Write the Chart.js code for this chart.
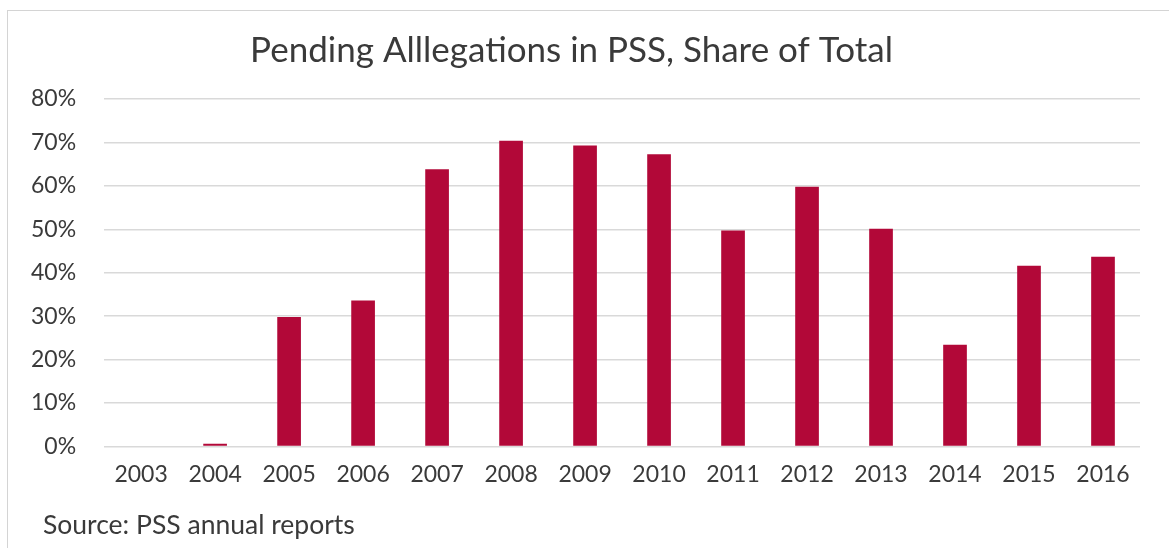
<!DOCTYPE html>
<html>
<head>
<meta charset="utf-8">
<script src="https://cdn.jsdelivr.net/npm/chart.js@4/dist/chart.umd.min.js"></script>
<style>
  html, body { margin: 0; padding: 0; background: #fff; }
  #wrap { position: relative; width: 1169px; height: 548px; overflow: hidden; }
  #frame {
    position: absolute; left: 7px; top: 10px; width: 1200px; height: 600px;
    border-top: 1px solid #d4d4d4; border-left: 1px solid #d4d4d4;
  }
  #chart { position: absolute; left: 0; top: 0; }
  #source {
    position: absolute; left: 43px; top: 508px;
    font-family: Lato, sans-serif; font-size: 26.5px; color: #3a3a3a;
  }
</style>
</head>
<body>
<div id="wrap">
  <div id="frame"></div>
  <canvas id="chart" width="1169" height="548"></canvas>
  <div id="source">Source: PSS annual reports</div>
</div>
<script>
const YEARS = ["2003", "2004", "2005", "2006", "2007", "2008", "2009", "2010",
               "2011", "2012", "2013", "2014", "2015", "2016"]
// share of allegations still pending, percent
const PENDING_SHARE = [0, 0.6, 29.8, 33.6, 63.8, 70.4, 69.3, 67.3,
                       49.7, 59.8, 50.1, 23.4, 41.6, 43.7]
const Y_TICKS = [0, 10, 20, 30, 40, 50, 60, 70, 80]

const TEXT = "#3a3a3a"
const BAR = "#b20838"

new Chart(document.getElementById("chart"), {
  type: "bar",
  data: {
    labels: YEARS,
    datasets: [{
      data: PENDING_SHARE,
      backgroundColor: BAR,
      barPercentage: 0.32,
      categoryPercentage: 1,
    }]
  },
  options: {
    responsive: false,
    animation: false,
    layout: { padding: { left: 3, right: 29, top: 0, bottom: 46 } },
    plugins: {
      legend: { display: false },
      tooltip: { enabled: false },
      title: {
        display: true,
        text: "Pending Alllegations in PSS, Share of Total",
        color: TEXT,
        font: { family: "Lato", size: 35, weight: "normal" },
        padding: { top: 30, bottom: 27 },
      }
    },
    scales: {
      x: {
        grid: { display: false, drawTicks: false },
        border: { display: false },
        ticks: {
          color: TEXT,
          padding: 14,
          font: { family: "Lato", size: 23 },
          maxRotation: 0,
        }
      },
      y: {
        min: Y_TICKS[0],
        max: Y_TICKS[Y_TICKS.length - 1],
        grid: { color: "#d9d9d9", drawTicks: false, lineWidth: 1.5 },
        border: { display: false },
        afterBuildTicks: (scale) => { scale.ticks = Y_TICKS.map(v => ({ value: v })) },
        ticks: {
          color: TEXT,
          padding: 28,
          font: { family: "Lato", size: 23 },
          callback: (v) => v + "%",
        }
      }
    }
  }
})
</script>
</body>
</html>
